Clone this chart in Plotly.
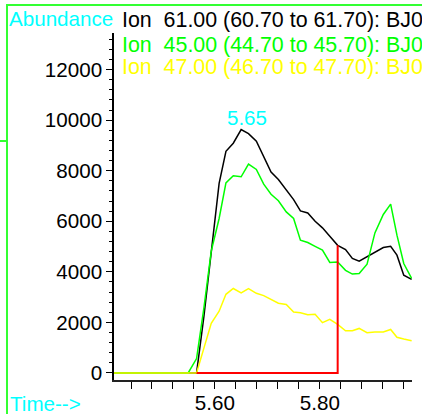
import numpy as np
import plotly.graph_objects as go

# ---------------- data ----------------
times = [5.407, 5.549, 5.565, 5.579, 5.593, 5.608, 5.621, 5.635, 5.650, 5.664,
         5.679, 5.693, 5.707, 5.721, 5.736, 5.750, 5.763, 5.777, 5.791, 5.805,
         5.819, 5.834, 5.849, 5.862, 5.875, 5.890, 5.905, 5.921, 5.935, 5.947,
         5.960, 5.975]
ion61 = [0, 0, 0, 2240, 4860, 7500, 8770, 9090, 9630, 9470,
         9170, 8550, 7950, 7650, 7260, 6860, 6410, 6330, 6000, 5740,
         5410, 5050, 4880, 4530, 4420, 4590, 4750, 4960, 5010, 4660,
         3870, 3700]
ion45 = [0, 0, 570, 2570, 4820, 6110, 7520, 7800, 7760, 8260,
         8050, 7470, 7070, 6810, 6370, 6110, 5250, 5160, 5010, 4860,
         4370, 4390, 4060, 3910, 3930, 4300, 5540, 6270, 6680, 5450,
         4330, 3740]
ion47 = [0, 0, 0, 980, 1960, 2440, 3110, 3340, 3170, 3340,
         3150, 3060, 2920, 2760, 2710, 2410, 2380, 2300, 2320, 1990,
         2120, 1920, 1670, 1670, 1760, 1590, 1620, 1620, 1720, 1410,
         1340, 1270]
legend_labels = ["Ion\u00a0 61.00 (60.70 to 61.70): BJ0",
                 "Ion\u00a0 45.00 (44.70 to 45.70): BJ0",
                 "Ion\u00a0 47.00 (46.70 to 47.70): BJ0"]
integration_start = 5.565
integration_end = 5.834
y_title = "Abundance"
x_title = "Time-->"

# ---------------- layout geometry ----------------
W, H = 422, 414
L, R, T, B = 114, 10, 33, 34
FONT = "Liberation Sans, Arial, sans-serif"


def pxx(x):
    return (x - L) / (W - L - R)


def pyy(y):
    return (H - B - y) / (H - T - B)


colors = ["#000000", "#00ff00", "#ffff00"]
series = [ion61, ion45, ion47]

fig = go.Figure()
for vals, col in zip(series, colors):
    fig.add_trace(go.Scatter(x=times, y=vals, mode="lines",
                             line=dict(color=col, width=1.5),
                             hoverinfo="skip", showlegend=False))

# integration baseline (red)
end_idx = times.index(integration_end)
fig.add_trace(go.Scatter(x=[integration_start, integration_end, integration_end],
                         y=[0, 0, ion61[end_idx]], mode="lines",
                         line=dict(color="#ff0000", width=2),
                         hoverinfo="skip", showlegend=False))

# peak label
pk = int(np.argmax(ion61))
annotations = [
    dict(x=times[pk], y=ion61[pk], xref="x", yref="y", text=f"{times[pk]:.2f}",
         showarrow=False, xanchor="center", yanchor="middle", xshift=5.5, yshift=12,
         font=dict(family=FONT, size=20.5, color="#00ffff")),
    dict(x=pxx(6.5), y=pyy(19), xref="paper", yref="paper", text=y_title,
         showarrow=False, xanchor="left", yanchor="middle",
         font=dict(family=FONT, size=20.6, color="#00ffff")),
    dict(x=pxx(7.5), y=pyy(403), xref="paper", yref="paper", text=x_title,
         showarrow=False, xanchor="left", yanchor="middle",
         font=dict(family=FONT, size=20.6, color="#00ffff")),
]
for i, (lab, col) in enumerate(zip(legend_labels, colors)):
    annotations.append(dict(x=pxx(120), y=pyy([20, 44.5, 67.5][i]), xref="paper", yref="paper",
                            text=lab, showarrow=False, xanchor="left", yanchor="middle",
                            font=dict(family=FONT, size=21.4, color=col)))

frame = "#33ff33"
shapes = [
    dict(type="line", xref="paper", yref="paper", x0=pxx(7), x1=pxx(7), y0=pyy(5), y1=pyy(420),
         line=dict(color=frame, width=2), layer="above"),
    dict(type="line", xref="paper", yref="paper", x0=pxx(6), x1=pxx(430), y0=pyy(5), y1=pyy(5),
         line=dict(color=frame, width=2), layer="above"),
    dict(type="line", xref="paper", yref="paper", x0=pxx(-2), x1=pxx(7), y0=pyy(141), y1=pyy(141),
         line=dict(color=frame, width=2), layer="above"),
]

fig.update_layout(
    width=W, height=H,
    margin=dict(l=L, r=R, t=T, b=B, pad=0),
    paper_bgcolor="white", plot_bgcolor="white",
    font=dict(family=FONT, size=20, color="black"),
    annotations=annotations, shapes=shapes,
    xaxis=dict(range=[5.4076, 5.9757], showgrid=False, zeroline=False,
               showline=True, linecolor="#222222", linewidth=1.5,
               ticks="outside", ticklen=7, tickwidth=1, tickcolor="black",
               tick0=5.6, dtick=0.2, tickformat=".2f", ticklabelstandoff=-3,
               minor=dict(dtick=0.04, tick0=5.6, ticks="outside", ticklen=7,
                          tickwidth=1, tickcolor="black", showgrid=False),
               tickfont=dict(family=FONT, size=20.6, color="black"),
               automargin=False, fixedrange=True),
    yaxis=dict(range=[-280, 13450], showgrid=False, zeroline=False,
               showline=True, linecolor="black", linewidth=1.5,
               ticks="outside", ticklen=6, tickwidth=1, tickcolor="black",
               tick0=0, dtick=2000, tickformat="d",
               minor=dict(dtick=400, tick0=0, ticks="outside", ticklen=3,
                          tickwidth=1, tickcolor="black", showgrid=False),
               tickfont=dict(family=FONT, size=20.6, color="black"),
               automargin=False, fixedrange=True),
)

fig.write_html("out.html", config={"displayModeBar": False},
               post_script="document.body.style.margin='0';document.body.style.overflow='hidden';")
